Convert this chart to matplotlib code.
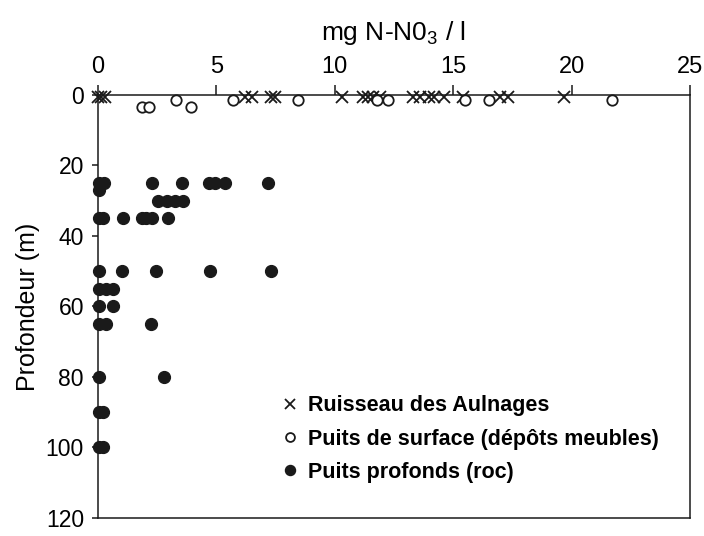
import matplotlib
matplotlib.use("Agg")
import matplotlib.pyplot as plt
from matplotlib import font_manager

plt.rcParams['font.family'] = ['Liberation Sans', 'DejaVu Sans']
plt.rcParams['mathtext.default'] = 'regular'

names = {f.name for f in font_manager.fontManager.ttflist}
narrow = 'Liberation Sans Narrow' if 'Liberation Sans Narrow' in names else 'Liberation Sans'

# Ruisseau des Aulnages (surface stream, depth ~0)
ruisseau_x = [0.0, 0.15, 0.3, 6.2, 6.5, 7.3, 7.5, 10.3, 11.2, 11.4, 11.6, 11.9,
              13.3, 13.6, 14.0, 14.2, 14.6, 15.4, 17.0, 17.3, 19.7]
ruisseau_y = [0.5] * len(ruisseau_x)

# Puits de surface (dépôts meubles)
surface_x = [1.85, 2.15, 3.3, 3.95, 5.7, 8.45, 11.8, 12.25, 15.5, 16.5, 21.7]
surface_y = [3.3, 3.3, 1.4, 3.3, 1.4, 1.4, 1.4, 1.4, 1.4, 1.4, 1.4]

# Puits profonds (roc)
profonds_x = [0.05, 0.25, 2.27, 3.55, 4.7, 4.95, 5.35, 7.2,
              0.05,
              2.55, 2.9, 3.25, 3.6,
              0.05, 0.2, 1.05, 1.85, 2.05, 2.3, 2.95,
              0.05, 1.0, 2.45, 4.75, 7.3,
              0.05, 0.35, 0.65,
              0.05, 0.65,
              0.05, 0.35, 2.25,
              0.05, 2.8,
              0.05, 0.2,
              0.05, 0.2]
profonds_y = [25] * 8 + [27] + [30] * 4 + [35] * 7 + [50] * 5 + [55] * 3 + \
             [60] * 2 + [65] * 3 + [80] * 2 + [90] * 2 + [100] * 2

x_ticks = [0, 5, 10, 15, 20, 25]
y_ticks = [0, 20, 40, 60, 80, 100, 120]

fig = plt.figure(figsize=(7.04, 5.36), dpi=100)
ax = fig.add_axes([0.139, 0.0336, 0.841, 0.7892])

ink = '#1a1a1a'
ax.plot(ruisseau_x, ruisseau_y, 'x', color=ink, ms=8, mew=1.3, ls='none',
        label='Ruisseau des Aulnages', clip_on=False)
ax.plot(surface_x, surface_y, 'o', mfc='white', mec=ink, ms=7.5, mew=1.3, ls='none',
        label='Puits de surface (dépôts meubles)', clip_on=False)
ax.plot(profonds_x, profonds_y, 'o', color=ink, ms=8.5, ls='none',
        label='Puits profonds (roc)', clip_on=False)

ax.set_xlim(0, 25)
ax.set_ylim(120, 0)
ax.set_xticks(x_ticks)
ax.set_yticks(y_ticks)
ax.xaxis.tick_top()
ax.xaxis.set_label_position('top')
ax.tick_params(axis='x', direction='out', length=7, width=1.1, color=ink,
               labelsize=17, pad=5)
ax.tick_params(axis='y', direction='out', length=4, width=1.1, color=ink,
               labelsize=16.5, pad=6)
for lab in ax.get_xticklabels() + ax.get_yticklabels():
    lab.set_family([narrow, 'DejaVu Sans'])
for s in ax.spines.values():
    s.set_linewidth(1.1)
    s.set_color(ink)

ax.set_xlabel('mg N-N0$_3$ / l', fontsize=19, labelpad=12, family=[narrow, 'DejaVu Sans'])
ax.set_ylabel('Profondeur (m)', fontsize=18, labelpad=4, family=[narrow, 'DejaVu Sans'])

leg = ax.legend(loc='upper left', bbox_to_anchor=(0.31, 0.29), frameon=False,
                borderpad=0, borderaxespad=0, handlelength=0.8, handletextpad=0.45,
                labelspacing=0.57, markerscale=0.85, prop={'weight': 'bold', 'size': 15.5})

fig.savefig('out.png', dpi=100)
